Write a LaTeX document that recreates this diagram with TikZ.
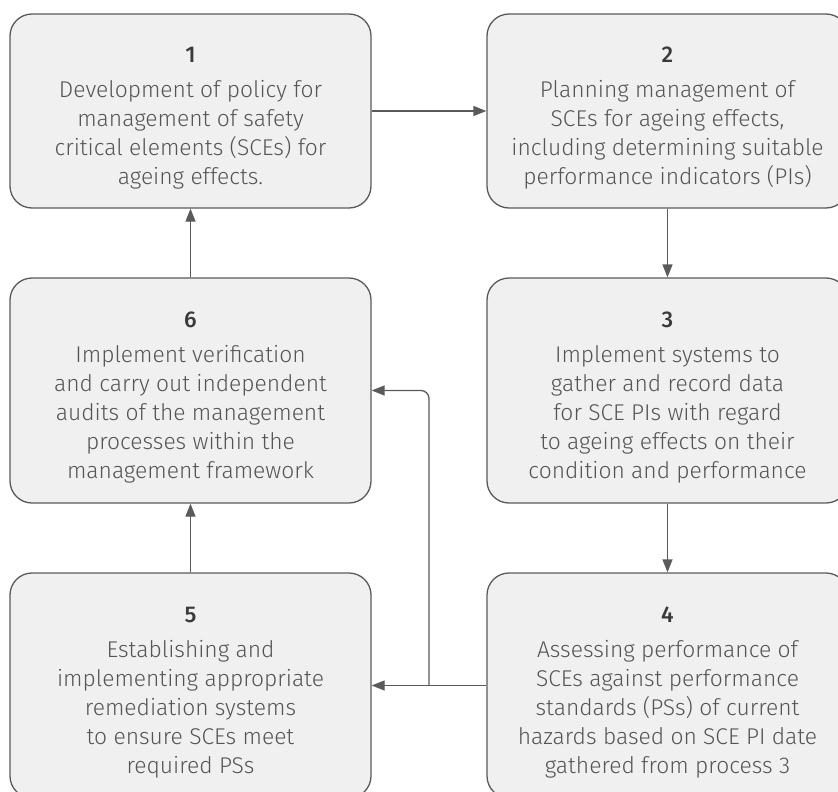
\documentclass[tikz,border=0pt]{standalone}
\usepackage{fontspec}
\setmainfont{Fira Sans}[UprightFont={* Light},BoldFont={* Medium}]
\usetikzlibrary{arrows.meta}
\definecolor{boxfill}{HTML}{F0F0F0}
\definecolor{boxline}{HTML}{5A5A5A}
\definecolor{txt}{HTML}{555555}
\definecolor{numc}{HTML}{3A3A3A}
\tikzset{
  stagebox/.style={draw=boxline, fill=boxfill, line width=1.3pt, rounded corners=22pt,
    minimum width=361pt, text=txt, align=center, inner sep=0pt,
    font=\fontsize{22.8}{29}\selectfont},
  flow/.style={draw=boxline, line width=1.3pt, -{Triangle[length=13pt,width=10pt]}},
}
\newcommand{\stagenum}[1]{\rule{0pt}{30pt}{\color{numc}\bfseries #1}\\[6pt]}
\begin{document}
\begin{tikzpicture}[x=1pt,y=1pt]
\useasboundingbox (0,0) rectangle (838,-792);
\clip (0,0) rectangle (838,-792);
\node[stagebox, minimum height=194pt] (b1) at (190.5,-111) {\stagenum{1}Development of policy for\\management of safety\\critical elements (SCEs) for\\ageing effects.};
\node[stagebox, minimum height=194pt] (b2) at (667.5,-111) {\stagenum{2}Planning management of\\SCEs for ageing effects,\\including determining suitable\\performance indicators (PIs)};
\node[stagebox, minimum height=225pt] (b6) at (190.5,-390.5) {\stagenum{6}Implement verification\\and carry out independent\\audits of the management\\processes within the\\management framework};
\node[stagebox, minimum height=225pt] (b3) at (667.5,-390.5) {\stagenum{3}Implement systems to\\gather and record data\\for SCE PIs with regard\\to ageing effects on their\\condition and performance};
\node[stagebox, minimum height=225pt] (b5) at (190.5,-685.5) {\stagenum{5}Establishing and\\implementing appropriate\\remediation systems\\to ensure SCEs meet\\required PSs};
\node[stagebox, minimum height=225pt] (b4) at (667.5,-685.5) {\stagenum{4}Assessing performance of\\SCEs against performance\\standards (PSs) of current\\hazards based on SCE PI date\\gathered from process 3};
\coordinate (j) at (429,-685.5);
\draw[flow] (b1) -- (b2);
\draw[flow] (b2) -- (b3);
\draw[flow] (b3) -- (b4);
\draw[flow] (b4) -- (b5);
\draw[flow, rounded corners=8pt] (j) |- (b6.east);
\draw[flow] (b5) -- (b6);
\draw[flow] (b6) -- (b1);
\end{tikzpicture}
\end{document}
